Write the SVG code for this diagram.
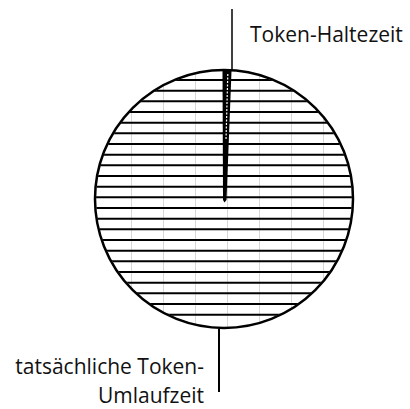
<svg xmlns="http://www.w3.org/2000/svg" width="410" height="409" viewBox="0 0 410 409">
<style>
.lbl{font-family:"Open Sans","Noto Sans","Liberation Sans",sans-serif;font-size:21px;fill:#111}
.hatch{stroke:#000;stroke-width:2}
.seam{stroke:#d8d8d8;stroke-width:1}
.lead{stroke:#000;fill:none}
</style>
<defs>
<clipPath id="cc"><circle cx="224" cy="199" r="128"/></clipPath>
</defs>
<rect width="410" height="409" fill="#fff"/>
<g id="pie">
<circle cx="224" cy="199" r="129" fill="#fff"/>
<g clip-path="url(#cc)">
<g class="seam">
<line x1="131.5" y1="60" x2="131.5" y2="340"/>
<line x1="163.5" y1="60" x2="163.5" y2="340"/>
<line x1="195.5" y1="60" x2="195.5" y2="340"/>
<line x1="227.5" y1="60" x2="227.5" y2="340"/>
<line x1="259.5" y1="60" x2="259.5" y2="340"/>
<line x1="291.5" y1="60" x2="291.5" y2="340"/>
<line x1="323.5" y1="60" x2="323.5" y2="340"/>
</g>
<g class="hatch">
<line x1="90" y1="80" x2="360" y2="80"/>
<line x1="90" y1="90.7" x2="360" y2="90.7"/>
<line x1="90" y1="101.3" x2="360" y2="101.3"/>
<line x1="90" y1="112" x2="360" y2="112"/>
<line x1="90" y1="122.7" x2="360" y2="122.7"/>
<line x1="90" y1="133.3" x2="360" y2="133.3"/>
<line x1="90" y1="144" x2="360" y2="144"/>
<line x1="90" y1="154.7" x2="360" y2="154.7"/>
<line x1="90" y1="165.3" x2="360" y2="165.3"/>
<line x1="90" y1="176" x2="360" y2="176"/>
<line x1="90" y1="186.7" x2="360" y2="186.7"/>
<line x1="90" y1="197.3" x2="360" y2="197.3"/>
<line x1="90" y1="208" x2="360" y2="208"/>
<line x1="90" y1="218.7" x2="360" y2="218.7"/>
<line x1="90" y1="229.3" x2="360" y2="229.3"/>
<line x1="90" y1="240" x2="360" y2="240"/>
<line x1="90" y1="250.7" x2="360" y2="250.7"/>
<line x1="90" y1="261.3" x2="360" y2="261.3"/>
<line x1="90" y1="272" x2="360" y2="272"/>
<line x1="90" y1="282.7" x2="360" y2="282.7"/>
<line x1="90" y1="293.3" x2="360" y2="293.3"/>
<line x1="90" y1="304" x2="360" y2="304"/>
<line x1="90" y1="314.7" x2="360" y2="314.7"/>
</g>
</g>
<circle cx="224" cy="199" r="129" fill="none" stroke="#000" stroke-width="2.5"/>
</g>
<g id="wedge">
<polygon points="222.5,71 231.5,71 226.5,200 224.5,202.5 223,200" fill="#000"/>
<line x1="227.8" y1="74" x2="226" y2="140" stroke="#fff" stroke-width="1.2" stroke-dasharray="2 1.5"/>
</g>
<g id="connectors">
<line class="lead" x1="232" y1="9" x2="232" y2="71" stroke-width="1.5"/>
<line class="lead" x1="219" y1="329" x2="219" y2="392" stroke-width="2"/>
</g>
<g id="label-halte">
<text class="lbl" x="250" y="41.5">Token-Haltezeit</text>
</g>
<g id="label-umlauf">
<text class="lbl" x="204" y="374" text-anchor="end">tatsächliche Token-</text>
<text class="lbl" x="204" y="402.5" text-anchor="end">Umlaufzeit</text>
</g>
</svg>
